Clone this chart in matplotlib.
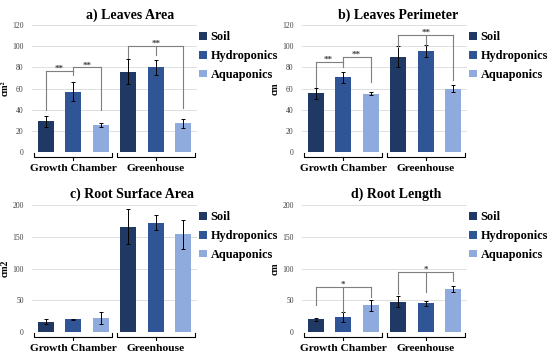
import numpy as np
import matplotlib
matplotlib.use('Agg')
import matplotlib.pyplot as plt
from matplotlib.patches import Patch

plt.rcParams['font.family'] = ['Liberation Serif', 'DejaVu Serif']

# data
groups = ['Growth Chamber', 'Greenhouse']
series = ['Soil', 'Hydroponics', 'Aquaponics']
colors = ['#203864', '#2F5597', '#8FAADC']

titles = ['a) Leaves Area', 'b) Leaves Perimeter', 'c) Root Surface Area', 'd) Root Length']
ylabels = ['cm²', 'cm', 'cm2', 'cm']
ymax = [120, 120, 200, 200]
ystep = [20, 20, 50, 50]

# order: GC soil, GC hydro, GC aqua, GH soil, GH hydro, GH aqua
leaves_area = [29, 57, 25.5, 76, 80, 27]
leaves_area_err = [5, 9, 2, 12, 7, 4.5]
leaves_perim = [55.5, 70.5, 55, 90, 95.5, 60]
leaves_perim_err = [5, 5, 1.5, 10, 5.5, 3.5]
root_surface = [16, 20, 22, 166, 172, 154]
root_surface_err = [4, 1, 10, 28, 12, 23]
root_length = [20, 24, 42, 48, 45, 68]
root_length_err = [2.5, 8, 9, 8, 4, 4.5]

values = [leaves_area, leaves_perim, root_surface, root_length]
errors = [leaves_area_err, leaves_perim_err, root_surface_err, root_length_err]

# significance brackets: (legs x, legs bottom, top, label, label x)
sig_a = [([0, 1], [40, 73], 77, '**', 0.5), ([1, 2], [77, 40], 80, '**', 1.5),
         ([3, 4, 5], [89, 92, 42], 100, '**', 4)]
sig_b = [([0, 1], [61, 80], 85, '**', 0.45), ([1, 2], [85, 66], 90, '**', 1.45),
         ([3, 4, 5], [99, 101, 68], 110.5, '**', 4)]
sig_c = []
sig_d = [([0, 1, 2], [42, 31, 55], 71, '*', 1), ([3, 4, 5], [60, 63, 80], 95, '*', 4)]
sigs = [sig_a, sig_b, sig_c, sig_d]

W, H = 550, 359
fig = plt.figure(figsize=(W / 100, H / 100), dpi=100)

# axes pixel boxes (left, top of y max)
boxes = [(32, 25), (302, 25), (32, 205), (302, 205)]
title_pos = [(130, 15), (398, 15), (132, 194), (396, 194)]
aw, ah = 165, 127

x = np.arange(6)
for k in range(4):
    l, t = boxes[k]
    ax = fig.add_axes([l / W, (H - t - ah) / H, aw / W, ah / H])
    cols = colors * 2
    ax.bar(x, values[k], width=0.58, color=cols, zorder=2)
    ax.errorbar(x, values[k], yerr=errors[k], fmt='none', ecolor='black',
                elinewidth=0.7, capsize=1.5, capthick=0.7, zorder=3)
    ax.set_xlim(-0.5, 5.5)
    ax.set_ylim(0, ymax[k])
    ax.set_yticks(np.arange(0, ymax[k] + 1, ystep[k]))
    ax.tick_params(axis='y', length=0, labelsize=5.5, labelcolor='#404040', pad=6)
    ax.set_xticks([])
    ax.grid(axis='y', color='#D9D9D9', linewidth=0.6, zorder=0)
    for s in ax.spines.values():
        s.set_visible(False)
    ax.set_ylabel(ylabels[k], fontsize=7, fontweight='bold')
    ax.yaxis.set_label_coords(-0.135, 0.5)

    # group braces under the axis
    tr = ax.get_xaxis_transform()
    for g, (x0, x1, xc) in enumerate([(-0.42, 2.42, 1), (2.58, 5.42, 4)]):
        ax.plot([x0, x0, x1, x1], [-0.01, -0.04, -0.04, -0.01], transform=tr,
                color='black', linewidth=0.8, clip_on=False)
        ax.plot([xc, xc], [-0.04, -0.065], transform=tr, color='black',
                linewidth=0.8, clip_on=False)
        ax.text(xc, -0.13, groups[g], transform=tr, ha='center', va='center',
                fontsize=8.2, fontweight='bold')

    # significance brackets
    for legs, bottoms, top, lab, lx in sigs[k]:
        ax.plot([legs[0], legs[-1]], [top, top], color='#7F7F7F', linewidth=0.8, zorder=4)
        for xl, yb in zip(legs, bottoms):
            ax.plot([xl, xl], [yb, top], color='#7F7F7F', linewidth=0.8, zorder=4)
        ax.text(lx, top, lab, ha='center', va='baseline', fontsize=6.5,
                color='#404040', fontweight='bold')

    handles = [Patch(facecolor=c) for c in colors]
    ax.legend(handles, series, loc='upper left', bbox_to_anchor=(1.015, 0.95),
              frameon=False, borderpad=0, borderaxespad=0, handlelength=0.6,
              handleheight=0.6, handletextpad=0.3, labelspacing=0.55,
              prop={'size': 8.8, 'weight': 'bold'})

    tx, ty = title_pos[k]
    fig.text(tx / W, 1 - ty / H, titles[k], ha='center', va='center',
             fontsize=10, fontweight='bold')

fig.savefig('out.png', dpi=100)
